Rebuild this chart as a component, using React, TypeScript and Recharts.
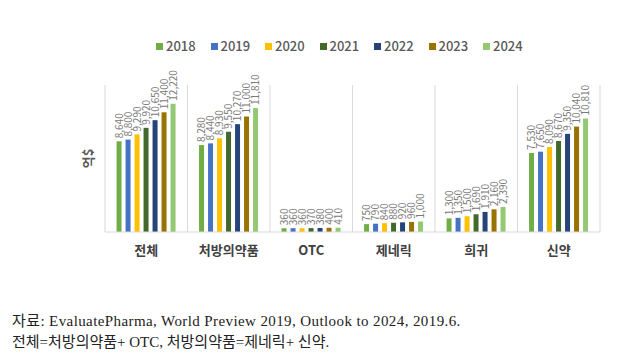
import React from "react";
import { BarChart, Bar, XAxis, YAxis, CartesianGrid, LabelList } from "recharts";

const categories = ["전체", "처방의약품", "OTC", "제네릭", "희귀", "신약"];
const years = ["2018", "2019", "2020", "2021", "2022", "2023", "2024"];
const colors = ["#70AD47", "#4472C4", "#FFC000", "#43682B", "#264478", "#997300", "#94C973"];

const v2018 = [8640, 8280, 360, 750, 1300, 7530];
const v2019 = [8800, 8440, 360, 790, 1350, 7650];
const v2020 = [9290, 8930, 360, 840, 1500, 8090];
const v2021 = [9920, 9550, 370, 880, 1690, 8670];
const v2022 = [10650, 10270, 380, 920, 1910, 9350];
const v2023 = [11400, 11000, 400, 960, 2160, 10040];
const v2024 = [12220, 11810, 410, 1000, 2390, 10810];
const series = [v2018, v2019, v2020, v2021, v2022, v2023, v2024];

const data = categories.map((c, i) => {
  const row: any = { name: c };
  years.forEach((y, j) => {
    row[y] = series[j][i];
  });
  return row;
});

const fmt = (v: number) => v.toLocaleString("en-US");

const KFONT = '"Noto Sans CJK KR", "Noto Sans", sans-serif';

const renderLabel = (props: any) => {
  const { x, y, width, value } = props;
  const cx = Number(x) + Number(width) / 2 + 3.5;
  const cy = Number(y) - 3;
  return (
    <text
      x={cx}
      y={cy}
      transform={`rotate(-90, ${cx}, ${cy})`}
      textAnchor="start"
      fontSize={10}
      fill="#7a7a7a"
      fontFamily={KFONT}
    >
      {fmt(value)}
    </text>
  );
};

export default function App() {
  return (
    <div style={{ position: "absolute", left: 0, top: 0, width: 641, height: 363, background: "#fff" }}>
      <div style={{ position: "absolute", left: 156, top: 36, display: "flex", fontFamily: KFONT, fontSize: 13, fontWeight: 500, color: "#595959" }}>
        {years.map((y, j) => (
          <div key={y} style={{ width: 54.5, display: "flex", alignItems: "center" }}>
            <span style={{ display: "inline-block", width: 7, height: 7, background: colors[j], marginRight: 3 }} />
            <span style={{ lineHeight: "20px" }}>{y}</span>
          </div>
        ))}
      </div>
      <div style={{ position: "absolute", left: 0, top: 0 }}>
        <BarChart
          width={641}
          height={270}
          data={data}
          margin={{ top: 85, right: 41, left: 45, bottom: 8 }}
          barCategoryGap="14%"
          barGap={4}
        >
          <CartesianGrid
            horizontal={false}
            stroke="#d9d9d9"
            verticalCoordinatesGenerator={({ offset }: any) =>
              categories.map((_, i) => offset.left + (i * offset.width) / categories.length).concat([offset.left + offset.width])
            }
          />
          <XAxis
            dataKey="name"
            axisLine={{ stroke: "#d9d9d9" }}
            tickLine={false}
            tick={{ fontSize: 13, fontWeight: 700, fill: "#404040", fontFamily: KFONT }}
            tickMargin={8}
            interval={0}
          />
          <YAxis
            width={60}
            domain={[0, 14000]}
            tick={false}
            axisLine={false}
            tickLine={false}
            label={{ value: "억$", angle: -90, position: "center", dx: 13, fontSize: 13, fontWeight: 700, fill: "#595959", fontFamily: KFONT }}
          />
          {years.map((y, j) => (
            <Bar key={y} dataKey={y} fill={colors[j]} isAnimationActive={false}>
              <LabelList dataKey={y} content={renderLabel} />
            </Bar>
          ))}
        </BarChart>
      </div>
      <div style={{ position: "absolute", left: 12, top: 311, fontFamily: '"Liberation Serif", "Noto Sans CJK KR", serif', fontSize: 15, color: "#222", lineHeight: "21px" }}>
        <div style={{ letterSpacing: 0.4 }}>자료: EvaluatePharma, World Preview 2019, Outlook to 2024, 2019.6.</div>
        <div>전체=처방의약품+ OTC, 처방의약품=제네릭+ 신약.</div>
      </div>
    </div>
  );
}
